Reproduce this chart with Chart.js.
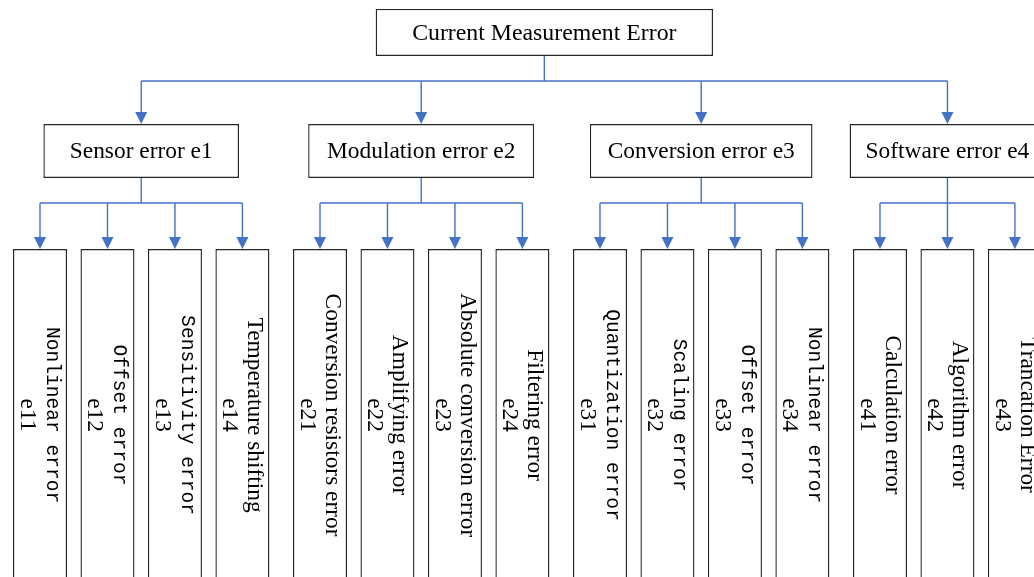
<!DOCTYPE html>
<html>
<head>
<meta charset="utf-8">
<title>Current Measurement Error</title>
<script src="https://cdn.jsdelivr.net/npm/chart.js@4.4.1/dist/chart.umd.min.js"></script>
<style>
  html, body { margin: 0; padding: 0; background: #fff; }
  #wrap { width: 1034px; height: 577px; }
</style>
</head>
<body>
<div id="wrap"><canvas id="tree" width="1034" height="577"></canvas></div>
<script>
// --- tree content ---
const rootLabel = 'Current Measurement Error';
const groupNames = ['Sensor error', 'Modulation error', 'Conversion error', 'Software error'];
const groupCodes = ['e1', 'e2', 'e3', 'e4'];
const leafNames = [
    'Nonlinear error', 'Offset error', 'Sensitivity error', 'Temperature shifting',
    'Conversion resistors error', 'Amplifying error', 'Absolute conversion error', 'Filtering error',
    'Quantization error', 'Scaling error', 'Offset error', 'Nonlinear error',
    'Calculation error', 'Algorithm error', 'Trancation Error'
];
const leafCodes = ['e11', 'e12', 'e13', 'e14', 'e21', 'e22', 'e23', 'e24',
                   'e31', 'e32', 'e33', 'e34', 'e41', 'e42', 'e43'];
const leafGroup = [0, 0, 0, 0, 1, 1, 1, 1, 2, 2, 2, 2, 3, 3, 3];

// --- layout: x in leaf "slots", y in rows (0 = root, 1 = groups) ---
const GROUP_GAP = 0.15;          // extra slots between two groups
const ROOT_W = 5.0;              // box widths, in slots
const GROUP_W = [2.9, 3.35, 3.3, 2.9];
const ROOT_H = 47, GROUP_H = 54, LEAF_W = 54;   // bar thickness, px
const ROOT_BUS = 0.409, GROUP_BUS = 1.439;
const LEAF_TOP = 1.827, LEAF_BOTTOM = 4.63;
const X_RANGE = [-0.593, 14.733];
const Y_RANGE = [-0.274, 4.595];

// styles
const BLUE = '#4472c4';
const BOX_LINE = '#262626';
const SERIF = '"Liberation Serif", "Times New Roman", serif';
const MONO = '"Liberation Mono", "Courier New", monospace';
const monoLeaves = ['e11', 'e12', 'e13', 'e31', 'e32', 'e33', 'e34']; // SimSun-looking ones

const leafSlot = leafNames.map((_, i) => i + leafGroup[i] * GROUP_GAP);
const groupSlot = groupNames.map((_, g) => {
    const s = leafSlot.filter((_, i) => leafGroup[i] === g);
    return (s[0] + s[s.length - 1]) / 2;
});
const rootSlot = (groupSlot[0] + groupSlot[groupSlot.length - 1]) / 2;

function axis(dir, range, reverse) {
    return { type: 'linear', axis: dir, display: false, offset: false,
             min: range[0], max: range[1], reverse: !!reverse };
}

// connectors + arrows under the boxes
const treeLines = {
    id: 'treeLines',
    beforeDatasetsDraw(chart) {
        const { ctx, scales: { x, y } } = chart;
        const px = v => x.getPixelForValue(v);
        const py = v => y.getPixelForValue(v);
        ctx.save();
        ctx.strokeStyle = BLUE;
        ctx.fillStyle = BLUE;
        ctx.lineWidth = 1.4;

        const line = (x1, y1, x2, y2) => {
            ctx.beginPath(); ctx.moveTo(x1, y1); ctx.lineTo(x2, y2); ctx.stroke();
        };
        const arrow = (cx, tip) => {
            ctx.beginPath();
            ctx.moveTo(cx, tip);
            ctx.lineTo(cx - 6, tip - 12);
            ctx.lineTo(cx + 6, tip - 12);
            ctx.closePath();
            ctx.fill();
        };

        // root -> groups
        const busY = py(ROOT_BUS);
        line(px(rootSlot), py(0) + ROOT_H / 2, px(rootSlot), busY);
        line(px(groupSlot[0]), busY, px(groupSlot[groupSlot.length - 1]), busY);
        const groupTop = py(1) - GROUP_H / 2;
        groupSlot.forEach(s => {
            line(px(s), busY, px(s), groupTop - 11);
            arrow(px(s), groupTop);
        });

        // groups -> leaves
        const gBus = py(GROUP_BUS);
        const leafTop = py(LEAF_TOP);
        groupSlot.forEach((s, g) => {
            const mine = leafSlot.filter((_, i) => leafGroup[i] === g);
            line(px(s), py(1) + GROUP_H / 2, px(s), gBus);
            line(px(mine[0]), gBus, px(mine[mine.length - 1]), gBus);
            mine.forEach(ls => {
                line(px(ls), gBus, px(ls), leafTop - 11);
                arrow(px(ls), leafTop);
            });
        });
        ctx.restore();
    }
};

// labels on top of the boxes
const treeText = {
    id: 'treeText',
    afterDatasetsDraw(chart) {
        const { ctx, scales: { x, y } } = chart;
        const px = v => x.getPixelForValue(v);
        const py = v => y.getPixelForValue(v);
        ctx.save();
        ctx.fillStyle = '#000';
        ctx.textAlign = 'center';
        ctx.textBaseline = 'middle';

        ctx.font = '23.8px ' + SERIF;
        ctx.fillText(rootLabel, px(rootSlot), py(0) + 1);
        ctx.font = '23.4px ' + SERIF;
        groupNames.forEach((n, g) => {
            ctx.fillText(n + ' ' + groupCodes[g], px(groupSlot[g]), py(1) + 1);
        });

        // leaves: text turned 90deg clockwise, name on the right, code on the left
        const midY = py((LEAF_TOP + LEAF_BOTTOM) / 2);
        leafNames.forEach((n, i) => {
            ctx.save();
            ctx.translate(px(leafSlot[i]), midY);
            ctx.rotate(Math.PI / 2);
            ctx.font = monoLeaves.includes(leafCodes[i]) ? '19.6px ' + MONO : '23.4px ' + SERIF;
            ctx.fillText(n, 0, -12);
            ctx.font = '23.4px ' + SERIF;
            ctx.fillText(leafCodes[i], 0, 13);
            ctx.restore();
        });
        ctx.restore();
    }
};

// grouped: false -> each bar sits right on its own value, barThickness wide
const boxStyle = {
    backgroundColor: '#ffffff',
    borderColor: BOX_LINE,
    borderWidth: 1.4,
    borderSkipped: false,
    inflateAmount: 0,
    grouped: false
};

new Chart(document.getElementById('tree'), {
    type: 'bar',
    data: {
        datasets: [
            {
                label: 'leaves', indexAxis: 'x', xAxisID: 'x', yAxisID: 'y',
                barThickness: LEAF_W, ...boxStyle,
                data: leafSlot.map(s => ({ x: s, y: [LEAF_TOP, LEAF_BOTTOM] }))
            },
            {
                label: 'groups', indexAxis: 'y', xAxisID: 'x2', yAxisID: 'y2',
                barThickness: GROUP_H, ...boxStyle,
                data: groupSlot.map((s, g) => ({ y: 1, x: [s - GROUP_W[g] / 2, s + GROUP_W[g] / 2] }))
            },
            {
                label: 'root', indexAxis: 'y', xAxisID: 'x3', yAxisID: 'y3',
                barThickness: ROOT_H, ...boxStyle,
                data: [{ y: 0, x: [rootSlot - ROOT_W / 2, rootSlot + ROOT_W / 2] }]
            }
        ]
    },
    options: {
        responsive: false,
        animation: false,
        layout: { padding: 0 },
        scales: {
            x: axis('x', X_RANGE), y: axis('y', Y_RANGE, true),
            x2: axis('x', X_RANGE), y2: axis('y', Y_RANGE, true),
            x3: axis('x', X_RANGE), y3: axis('y', Y_RANGE, true)
        },
        plugins: { legend: { display: false }, tooltip: { enabled: false } }
    },
    plugins: [treeLines, treeText]
});
</script>
</body>
</html>
